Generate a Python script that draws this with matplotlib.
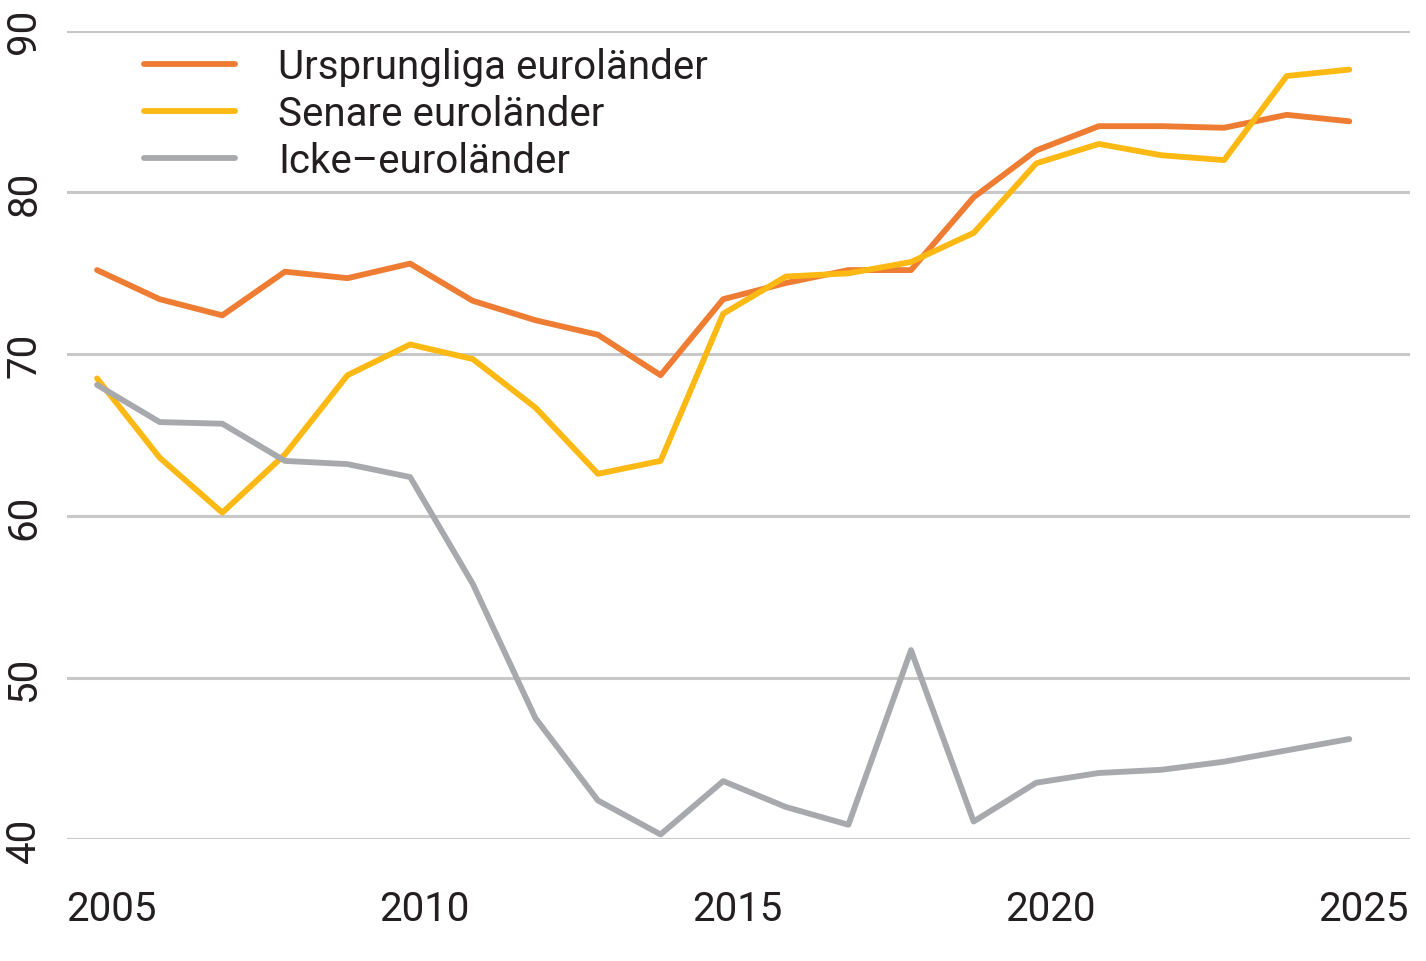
import matplotlib
matplotlib.use("Agg")
import matplotlib.pyplot as plt
import matplotlib.transforms as mtransforms

years = list(range(2005, 2026))
ursprungliga = [75.2, 73.4, 72.4, 75.1, 74.7, 75.6, 73.3, 72.1, 71.2, 68.7, 73.4,
                74.4, 75.2, 75.2, 79.7, 82.6, 84.1, 84.1, 84.0, 84.8, 84.4]
senare = [68.5, 63.6, 60.2, 63.8, 68.7, 70.6, 69.7, 66.7, 62.6, 63.4, 72.5,
          74.8, 75.0, 75.7, 77.5, 81.8, 83.0, 82.3, 82.0, 87.2, 87.6]
icke = [68.1, 65.8, 65.7, 63.4, 63.2, 62.4, 55.8, 47.5, 42.4, 40.3, 43.6,
        42.0, 40.9, 51.7, 41.1, 43.5, 44.1, 44.3, 44.8, 45.5, 46.2]
labels = ["Ursprungliga euroländer", "Senare euroländer", "Icke\u2013euroländer"]
xticks = [2005, 2010, 2015, 2020, 2025]
yticks = [40, 50, 60, 70, 80, 90]

plt.rcParams['font.family'] = ['Roboto', 'DejaVu Sans']
text_color = "#231F20"

fig = plt.figure(figsize=(14.26, 9.62), dpi=100)
ax = fig.add_axes([0.047, 0.1265, 0.9418, 0.8405])

colors = ["#EE7D33", "#FDB913", "#A7A9AC"]
for series, lab, c in zip([ursprungliga, senare, icke], labels, colors):
    ax.plot(years, series, color=c, lw=4.2, label=lab,
            solid_capstyle="round", solid_joinstyle="round", clip_on=False)

ax.set_xlim(2004.52, 2025.97)
ax.set_ylim(40, 90)
ax.set_yticks(yticks)
ax.set_xticks(xticks)
ax.yaxis.grid(True, color="#C8C8C8", lw=2.2)
ax.set_axisbelow(True)
for s in ax.spines.values():
    s.set_visible(False)

ax.tick_params(axis="x", length=0, pad=36, labelsize=29, labelcolor=text_color)
ax.tick_params(axis="y", length=0, pad=17, labelsize=29, labelcolor=text_color)
for lbl in ax.get_yticklabels():
    lbl.set_rotation(90)
    lbl.set_va("center")
shift = mtransforms.ScaledTranslation(0.14, 0, fig.dpi_scale_trans)
for lbl in ax.get_xticklabels():
    lbl.set_transform(lbl.get_transform() + shift)

leg = ax.legend(loc="upper left", bbox_to_anchor=(0.039, 1.01), frameon=False,
                fontsize=29, handlelength=2.28, handletextpad=1.07,
                labelspacing=0.2, borderaxespad=0.2)
for t in leg.get_texts():
    t.set_color(text_color)

fig.savefig("out.png", dpi=100)
